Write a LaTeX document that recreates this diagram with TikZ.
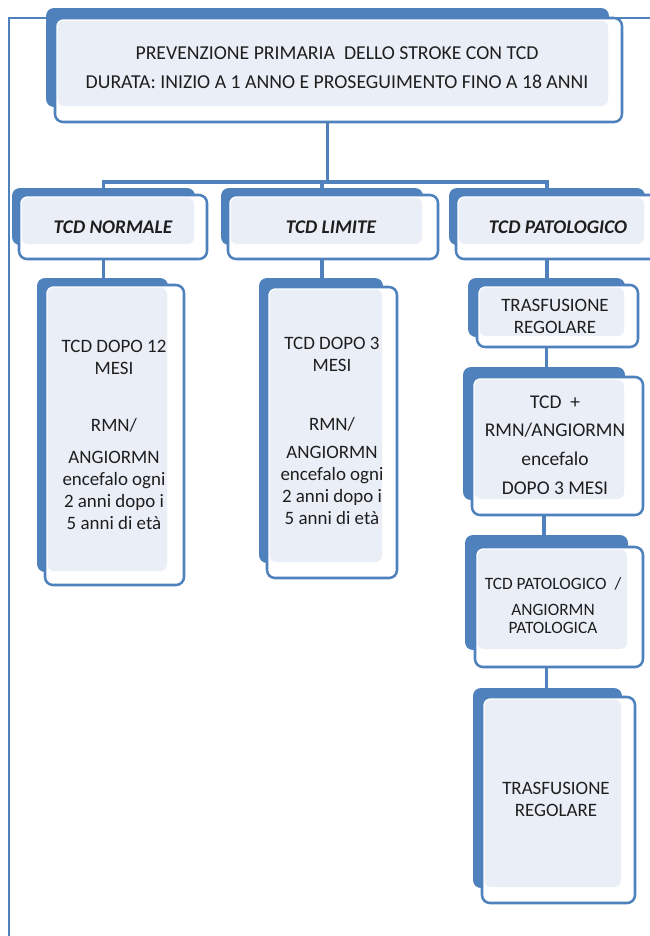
\documentclass[tikz,border=0pt]{standalone}
\usepackage{fontspec}
\setmainfont{Carlito}
\usetikzlibrary{fit,backgrounds}
\definecolor{bblue}{RGB}{79,129,189}
\definecolor{lfill}{RGB}{234,239,247}
\definecolor{tcol}{RGB}{30,30,30}
\tikzset{
  backbox/.style={inner sep=0pt, fill=bblue, rounded corners=6pt},
  frontbox/.style={inner sep=0pt, fill=white, draw=bblue, line width=1.9pt, rounded corners=6pt},
  conn/.style={draw=bblue, line width=2.7pt},
  framel/.style={draw=bblue, line width=1.3pt},
  txt/.style={align=center, text=tcol, inner sep=0pt, font=\fontsize{14.2}{16.5}\selectfont},
  htxt/.style={align=center, text=tcol, inner sep=0pt, font=\fontsize{14.5}{16}\selectfont\bfseries\itshape},
}
\newcommand\mkbox[9]{%
  \node[backbox, fit={(#2,#3)(#4,#5)}] (#1) {};
  \node[frontbox, fit={(#6,#7)(#8,#9)}] (#1F) {};
  \fill[lfill, rounded corners=5pt] ({#6+2.5},{#7+2.5}) rectangle ({#4-1},{#5-1});
}
\begin{document}
\begin{tikzpicture}[x=0.75pt,y=-0.75pt]
\useasboundingbox (0,0) rectangle (650,936);
% boxes
\mkbox{mainB}{46}{8}{609}{107}{55}{18}{622}{122}
\mkbox{n1}{12}{188}{195}{245}{19}{195}{207}{259}
\mkbox{n2}{221}{188}{423}{245}{228}{195}{438}{259}
\mkbox{n3}{449}{188}{645}{245}{456}{195}{662}{259}
\mkbox{l1}{37}{278}{168}{572}{45}{285}{184}{585}
\mkbox{m1}{259}{278}{383}{563}{267}{287}{397}{578}
\mkbox{t1}{468}{278}{625}{337}{477}{285}{638}{347}
\mkbox{t2}{463}{367}{625}{500}{472}{377}{643}{515}
\mkbox{t3}{465}{535}{628}{650}{475}{547}{643}{667}
\mkbox{t4}{473}{688}{622}{888}{482}{697}{635}{903}
% connectors and frame
\coordinate (bar) at (0,182);
\coordinate (fbl) at (9,936);
\coordinate (ftl) at (9,18);
\coordinate (ftr) at (650,18);
\begin{scope}[on background layer]
  \draw[framel] (fbl) -- (ftl) -- (ftr);
  \draw[conn] (mainB.south) -- (mainB.south |- bar);
  \draw[conn] (n1.north) -- (n1.north |- bar) -- (n3.north |- bar) -- (n3.north);
  \draw[conn] (n2.north) -- (n2.north |- bar);
  \draw[conn] (n1.south) -- (n1.south |- l1.north);
  \draw[conn] (n2.south) -- (n2.south |- m1.north);
  \draw[conn] (n3.south) -- (n3.south |- t1.north);
  \draw[conn] (t1.south) -- (t1.south |- t2.north);
  \draw[conn] (t2.south) -- (t2.south |- t3.north);
  \draw[conn] (t3.south) -- (t3.south |- t4.north);
\end{scope}
% texts
\node[txt, font=\fontsize{14.8}{16}\selectfont] (mainT) at (337,67.5)
  {PREVENZIONE PRIMARIA\ \ DELLO STROKE CON TCD\\[5.5pt]DURATA: INIZIO A 1 ANNO E PROSEGUIMENTO FINO A 18 ANNI};
\node[htxt] (n1T) at (113,227) {TCD NORMALE};
\node[htxt] (n2T) at (331,227) {TCD LIMITE};
\node[htxt] (n3T) at (558,227) {TCD PATOLOGICO};
\node[txt] (l1T) at (114,435)
  {TCD DOPO 12\\MESI\\[26pt]RMN/\\[8pt]ANGIORMN\\encefalo ogni\\2 anni dopo i\\5 anni di età};
\node[txt] (m1T) at (332,431)
  {TCD DOPO 3\\MESI\\[28pt]RMN/\\[4.5pt]ANGIORMN\\encefalo ogni\\2 anni dopo i\\5 anni di età};
\node[txt] (t1T) at (555,316) {TRASFUSIONE\\REGOLARE};
\node[txt, font=\fontsize{14.6}{16.5}\selectfont] (t2T) at (555,445) {TCD\ \ +\\[5pt]RMN/ANGIORMN\\[5pt]encefalo\\[5pt]DOPO 3 MESI};
\node[txt, font=\fontsize{13}{13.5}\selectfont] (t3T) at (553,605.5) {TCD PATOLOGICO\ \ /\\[6.5pt]ANGIORMN\\PATOLOGICA};
\node[txt] (t4T) at (556,799) {TRASFUSIONE\\REGOLARE};
\end{tikzpicture}
\end{document}
